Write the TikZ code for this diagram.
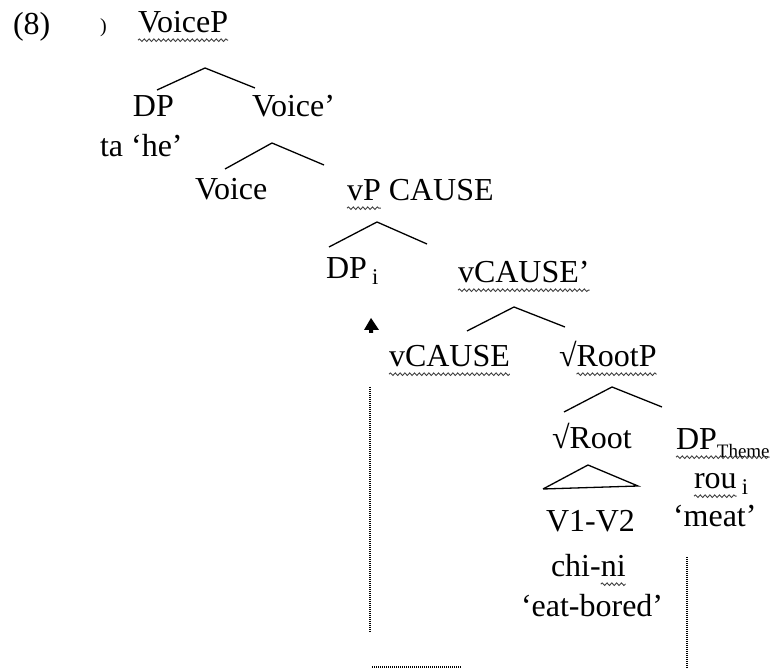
\documentclass[tikz,border=0pt]{standalone}
\usepackage{fontspec}
\setmainfont{Liberation Serif}
\usetikzlibrary{decorations.pathmorphing}
\begin{document}
\begin{tikzpicture}[x=0.5pt,y=-0.5pt,
  lbl/.style={inner sep=0pt, outer sep=0pt, anchor=base west, font=\fontsize{16}{19}\selectfont},
  branch/.style={line width=0.65pt},
  wavy/.style={draw=black!75, line width=0.45pt, decorate, decoration={snake, amplitude=0.65pt, segment length=2.4pt}},
  trace/.style={line width=0.6pt, dash pattern=on 0.5pt off 0.5pt}]
\useasboundingbox (0,0) rectangle (778,668);
% labels
\node[lbl] (ex) at (13,35) {(8)};
\node[lbl, font=\fontsize{10}{12}\selectfont] (paren) at (100,33) {)};
\node[lbl] (VoiceP) at (138,33) {VoiceP};
\node[lbl] (DP1) at (133,117) {DP};
\node[lbl] (Voicebar) at (252,117) {Voice’};
\node[lbl] (ta) at (100,157) {ta ‘he’};
\node[lbl] (Voice) at (195,200) {Voice};
\node[lbl] (vP) at (347,201) {vP};
\node[lbl] (CAUSE) at (vP.base east) {\ CAUSE};
\node[lbl] (DPi) at (326,279) {DP\,\textsubscript{i}};
\node[lbl] (vCAUSEbar) at (458,283) {vCAUSE’};
\node[lbl] (vCAUSE) at (389,367) {vCAUSE};
\node[lbl] (rootsym) at (559,367) {√};
\node[lbl] (RootP) at (rootsym.base east) {RootP};
\node[lbl] (Root) at (552,449) {√Root};
\node[lbl] (DPTheme) at (676,450) {DP\raisebox{-0.25em}{\fontsize{9.5}{10}\selectfont Theme}};
\node[lbl] (rou) at (694,489) {rou};
\node[lbl] (roui) at (rou.base east) {\,\textsubscript{i}};
\node[lbl] (meat) at (673,527) {‘meat’};
\node[lbl] (V1V2) at (546,532) {V1-V2};
\node[lbl] (chi) at (551,577) {chi-};
\node[lbl] (ni) at (chi.base east) {ni};
\node[lbl] (eatbored) at (521,617) {‘eat-bored’};
% wavy underlines
\foreach \n in {VoiceP,vP,vCAUSEbar,vCAUSE,RootP,DPTheme,rou,ni}
  \draw[wavy] ([yshift=-3.6pt]\n.base west) -- ([yshift=-3.6pt]\n.base east);
% branch points
\coordinate (b1) at (205,68);  \coordinate (b1l) at (157,90);  \coordinate (b1r) at (255,88);
\coordinate (b2) at (272,143); \coordinate (b2l) at (225,169); \coordinate (b2r) at (324,165);
\coordinate (b3) at (377,222); \coordinate (b3l) at (329,247); \coordinate (b3r) at (427,244);
\coordinate (b4) at (514,307); \coordinate (b4l) at (467,331); \coordinate (b4r) at (565,327);
\coordinate (b5) at (612,387); \coordinate (b5l) at (564,412); \coordinate (b5r) at (662,407);
\coordinate (t) at (588,465);  \coordinate (tl) at (543,489);  \coordinate (tr) at (638,486);
\foreach \b in {b1,b2,b3,b4,b5}
  \draw[branch] (\b l) -- (\b) -- (\b r);
\draw[branch, line join=miter] (tl) -- (t) -- (tr) -- (tl);
% movement trace
\coordinate (m1) at (370,387); \coordinate (m2) at (370,632);
\coordinate (m3) at (372,667); \coordinate (m4) at (462,667);
\coordinate (m5) at (687,557); \coordinate (m6) at (687,668);
\draw[trace] (m1) -- (m2);
\draw[trace] (m3) -- (m4);
\draw[trace] (m5) -- (m6);
\fill (371,318) -- (364,330) -- (369,330) -- (369,333) -- (373,333) -- (373,330) -- (379,330) -- cycle;
\end{tikzpicture}
\end{document}
